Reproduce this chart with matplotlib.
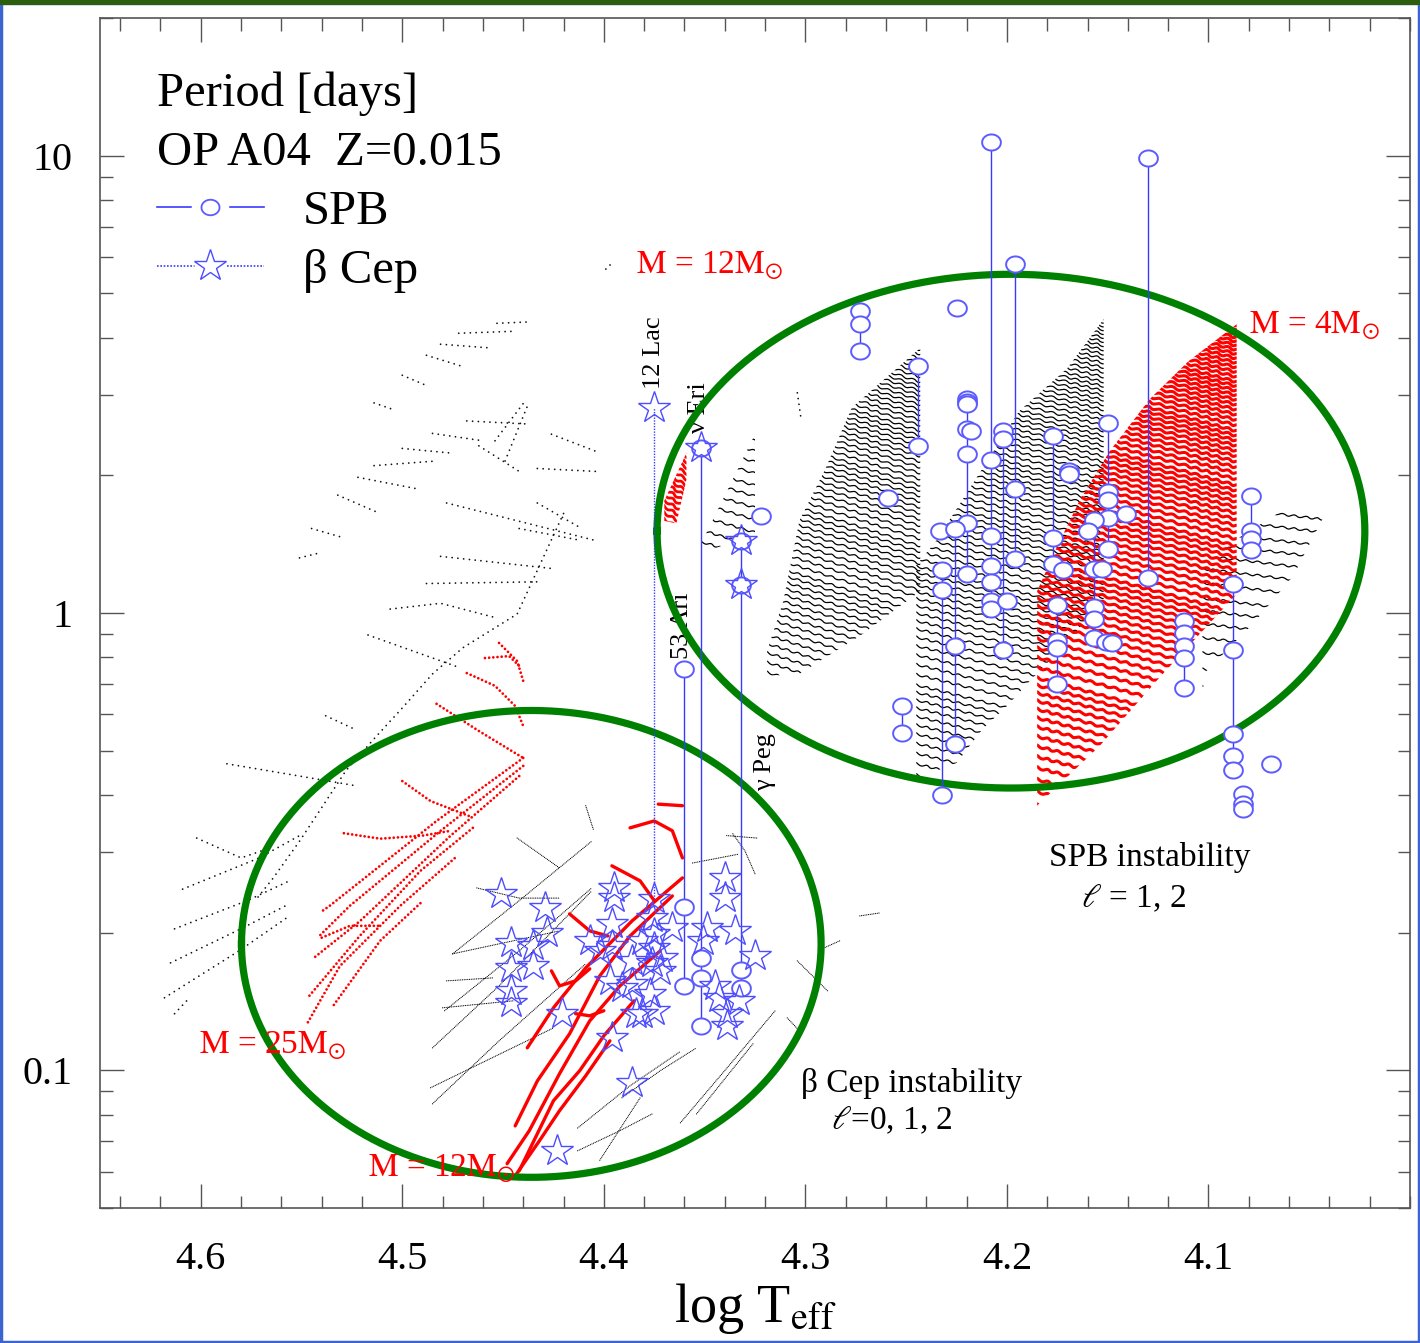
import numpy as np
import matplotlib
matplotlib.use("Agg")
import matplotlib.pyplot as plt
from matplotlib.patches import Polygon, Rectangle
from matplotlib.collections import LineCollection
from matplotlib.lines import Line2D
from matplotlib.legend_handler import HandlerTuple
from matplotlib.path import Path
from matplotlib.ticker import FixedLocator, MultipleLocator, LogLocator, NullFormatter

# ---------------- observed SPB stars (log Teff, periods in days) ----------------
spb_logt = [4.208, 4.130, 4.196, 4.273, 4.225, 4.244, 4.220, 4.218, 4.202, 4.200,
            4.259, 4.233, 4.232, 4.226, 4.252, 4.177, 4.169, 4.172, 4.175, 4.150,
            4.141, 4.157, 4.160, 4.153, 4.151, 4.148, 4.112, 4.088, 4.083, 4.079,
            4.069, 4.322]
spb_periods = [
    [10.7, 2.16, 1.47, 1.27, 1.17, 1.06, 1.02],
    [9.88, 1.19],
    [5.79, 1.87, 1.31],
    [4.57, 4.28, 3.74],
    [4.64],
    [3.47, 2.32],
    [2.94, 2.90, 2.86, 2.52, 2.23, 1.57, 1.22],
    [2.50],
    [2.50, 2.40, 0.830],
    [1.06],
    [1.78],
    [1.51],
    [1.24, 1.12, 0.400],
    [1.53, 0.847, 0.518],
    [0.626, 0.547],
    [2.44, 1.46, 1.28],
    [2.04, 2.01],
    [1.24],
    [1.04, 0.869, 0.839, 0.700],
    [2.60, 1.84, 1.77, 1.61, 1.38],
    [1.65],
    [1.60, 1.25, 1.03, 0.970, 0.882],
    [1.51],
    [1.25],
    [0.864],
    [0.860],
    [0.961, 0.904, 0.847, 0.797, 0.686],
    [1.16, 0.830, 0.544, 0.487, 0.454],
    [0.402, 0.382, 0.373],
    [1.80, 1.51, 1.45, 1.37],
    [0.468],
    [1.63],
]

# ---------------- observed beta Cep stars ----------------
bcep_logt = [4.451, 4.429, 4.446, 4.435, 4.428, 4.446, 4.435, 4.446, 4.446, 4.421,
             4.423, 4.395, 4.395, 4.407, 4.396, 4.396, 4.402, 4.386, 4.397, 4.386,
             4.391, 4.384, 4.396, 4.386, 4.376, 4.375, 4.375, 4.371, 4.381, 4.366,
             4.376, 4.372, 4.377, 4.375, 4.381, 4.340, 4.340, 4.335, 4.349, 4.351,
             4.325, 4.343, 4.339, 4.339, 4.345, 4.333]
bcep_p = [0.243, 0.2265, 0.190, 0.187, 0.1998, 0.1675, 0.1692, 0.1492, 0.1405, 0.133,
          0.0667, 0.2505, 0.238, 0.1919, 0.209, 0.187, 0.1825, 0.1735, 0.1569, 0.1545,
          0.1515, 0.133, 0.1178, 0.0939, 0.2155, 0.1988, 0.185, 0.176, 0.1919, 0.205,
          0.1718, 0.165, 0.147, 0.135, 0.133, 0.2635, 0.238, 0.2018, 0.205, 0.1919,
          0.178, 0.1441, 0.133, 0.125, 0.153, 0.1419]

# named stars with long period ranges
named_names = ['12 Lac', 'ν Eri', '53 Ari', 'γ Peg']
named_logt = [4.375, 4.352, 4.360, 4.332]
named_star_p = [[2.81, 0.237], [2.29], [], [1.44, 1.15]]
named_circ_p = [[], [2.29, 0.176, 0.159, 0.125], [0.754, 0.228, 0.153],
                [1.44, 1.15, 0.166, 0.1515]]
named_ls = [(0, (1, 1)), '-', '-', '-']
named_label_t = [4.375, 4.353, 4.361, 4.320]
named_label_p = [3.09, 2.47, 0.793, 0.408]

# ---------------- model tracks ----------------
red25_tracks = [
    ([4.440, 4.483, 4.536, 4.541], [0.482, 0.351, 0.229, 0.221]),
    ([4.440, 4.481, 4.526, 4.542], [0.463, 0.334, 0.229, 0.195]),
    ([4.442, 4.476, 4.521, 4.544], [0.440, 0.326, 0.212, 0.176]),
    ([4.465, 4.491, 4.521, 4.547], [0.339, 0.273, 0.197, 0.144]),
    ([4.474, 4.501, 4.531, 4.547], [0.291, 0.229, 0.169, 0.127]),
    ([4.491, 4.511, 4.535], [0.232, 0.192, 0.137]),
    ([4.483, 4.462, 4.440], [0.633, 0.552, 0.482]),
    ([4.500, 4.486, 4.467], [0.429, 0.388, 0.360]),
    ([4.529, 4.511, 4.490, 4.476], [0.330, 0.321, 0.326, 0.334]),
    ([4.468, 4.454, 4.444, 4.440], [0.739, 0.693, 0.626, 0.566]),
    ([4.459, 4.447, 4.442], [0.797, 0.805, 0.766]),
    ([4.452, 4.443, 4.440], [0.860, 0.785, 0.710]),
    ([4.540, 4.526, 4.512], [0.195, 0.207, 0.207]),
]

red12_tracks = [
    ([4.361, 4.386, 4.409, 4.425, 4.438], [0.2635, 0.2122, 0.1675, 0.137, 0.112]),
    ([4.366, 4.387, 4.402, 4.417, 4.433, 4.444], [0.2406, 0.1967, 0.1609, 0.1202, 0.0948, 0.0756]),
    ([4.372, 4.392, 4.407, 4.422, 4.437, 4.448], [0.1825, 0.153, 0.1283, 0.0983, 0.0738, 0.0625]),
    ([4.385, 4.400, 4.412, 4.425, 4.442], [0.1419, 0.119, 0.0998, 0.0858, 0.0603]),
    ([4.397, 4.409, 4.422, 4.432, 4.444], [0.116, 0.0973, 0.0816, 0.0701, 0.0588]),
    ([4.387, 4.375, 4.366, 4.361], [0.339, 0.351, 0.334, 0.2914]),
    ([4.373, 4.361], [0.382, 0.379]),
    ([4.396, 4.382, 4.375], [0.280, 0.2596, 0.235]),
    ([4.417, 4.407, 4.398], [0.2198, 0.2018, 0.1967]),
    ([4.426, 4.422, 4.414, 4.407], [0.165, 0.153, 0.1569, 0.1667]),
    ([4.414, 4.407, 4.400], [0.133, 0.1316, 0.135]),
]

hot_tracks = [
    ([4.453, 4.437], [4.30, 4.33]),
    ([4.472, 4.445], [4.09, 4.13]),
    ([4.481, 4.457], [3.87, 3.80]),
    ([4.488, 4.471], [3.66, 3.47]),
    ([4.500, 4.487], [3.31, 3.13]),
    ([4.514, 4.505], [2.88, 2.79]),
    ([4.468, 4.438], [2.63, 2.59]),
    ([4.485, 4.460], [2.47, 2.38]),
    ([4.500, 4.477], [2.29, 2.24]),
    ([4.514, 4.483], [2.10, 2.15]),
    ([4.522, 4.493], [1.98, 1.87]),
    ([4.532, 4.511], [1.81, 1.65]),
    ([4.545, 4.529], [1.53, 1.46]),
    ([4.551, 4.542], [1.32, 1.35]),
    ([4.478, 4.404], [1.74, 1.44]),
    ([4.481, 4.425], [1.33, 1.25]),
    ([4.488, 4.433], [1.16, 1.17]),
    ([4.506, 4.481, 4.453], [1.02, 1.05, 0.975]),
    ([4.517, 4.471], [0.895, 0.758]),
    ([4.538, 4.524], [0.596, 0.558]),
    ([4.420, 4.443, 4.470, 4.485, 4.500, 4.515, 4.528, 4.542, 4.551, 4.564, 4.572],
     [1.65, 0.995, 0.839, 0.736, 0.620, 0.525, 0.452, 0.364, 0.317, 0.2635, 0.238]),
    ([4.454, 4.439], [2.38, 2.91]),
    ([4.449, 4.438], [2.15, 2.83]),
    ([4.462, 4.442], [2.32, 2.04]),
    ([4.426, 4.402], [2.46, 2.24]),
    ([4.433, 4.404], [2.07, 2.04]),
    ([4.433, 4.411], [1.74, 1.53]),
    ([4.442, 4.411], [1.53, 1.44]),
    ([4.399, 4.396], [5.65, 5.82]),
    ([4.304, 4.302], [3.03, 2.63]),
    ([4.587, 4.551, 4.523], [0.468, 0.440, 0.419]),
    ([4.602, 4.580, 4.566], [0.322, 0.2914, 0.306]),
    ([4.609, 4.571, 4.551], [0.249, 0.2914, 0.326]),
    ([4.613, 4.577, 4.556], [0.2039, 0.235, 0.2596]),
    ([4.615, 4.579, 4.558], [0.1718, 0.205, 0.2289]),
    ([4.618, 4.581, 4.556], [0.1441, 0.1825, 0.2176]),
    ([4.613, 4.607], [0.133, 0.1419]),
]

bcep_tracks = [
    ([4.485, 4.452, 4.406], [0.112, 0.153, 0.2468]),
    ([4.485, 4.452, 4.409], [0.0845, 0.116, 0.171]),
    ([4.479, 4.442, 4.406], [0.135, 0.1825, 0.2505]),
    ([4.475, 4.442, 4.406], [0.1798, 0.235, 0.317]),
    ([4.463, 4.442, 4.422], [0.2505, 0.238, 0.238]),
    ([4.409, 4.405], [0.379, 0.334]),
    ([4.413, 4.387, 4.362], [0.0748, 0.0925, 0.110]),
    ([4.413, 4.392, 4.376], [0.0667, 0.0738, 0.0803]),
    ([4.402, 4.382], [0.0636, 0.0871]),
    ([4.391, 4.372, 4.354], [0.0871, 0.0998, 0.112]),
    ([4.362, 4.338, 4.315], [0.0768, 0.1023, 0.135]),
    ([4.354, 4.326], [0.0803, 0.1143]),
    ([4.336, 4.330, 4.325], [0.329, 0.302, 0.269]),
    ([4.339, 4.324], [0.326, 0.322]),
    ([4.356, 4.333], [0.284, 0.297]),
    ([4.304, 4.289], [0.1735, 0.1492]),
    ([4.309, 4.303], [0.1302, 0.122]),
    ([4.291, 4.283], [0.185, 0.1919]),
    ([4.273, 4.263], [0.2176, 0.2209]),
    ([4.443, 4.422], [0.322, 0.277]),
    ([4.475, 4.422], [0.1798, 0.2018]),
    ([4.478, 4.455], [0.1569, 0.1593]),
    ([4.480, 4.445], [0.137, 0.1419]),
    ([4.486, 4.425], [0.0916, 0.1238]),
]

# g-mode period families of the SPB models: outline of each family and the
# periods of its modes at the cool edge of the family
spb_mode_p = [0.29, 0.31, 0.33, 0.35, 0.37, 0.39, 0.41, 0.43, 0.45, 0.47, 0.49, 0.51,
              0.53, 0.55, 0.58, 0.61, 0.64, 0.67, 0.70, 0.73, 0.76, 0.79, 0.82, 0.85,
              0.88, 0.91, 0.94, 0.97, 1.00, 1.04, 1.08, 1.12, 1.16, 1.20, 1.24, 1.28,
              1.32, 1.36, 1.40, 1.45, 1.50, 1.55, 1.60, 1.65, 1.70, 1.75, 1.80, 1.85,
              1.90, 1.96, 2.02, 2.08, 2.14, 2.20, 2.26, 2.32, 2.38, 2.44, 2.50, 2.57,
              2.64, 2.71, 2.78, 2.85, 2.92, 2.99, 3.06, 3.13, 3.20, 3.28, 3.36, 3.44,
              3.52, 3.60, 3.68, 3.76, 3.84, 3.92, 4.00, 4.08, 4.16, 4.24, 4.32, 4.40]
r4_t = [4.086, 4.086, 4.124, 4.154, 4.185, 4.185, 4.176, 4.164, 4.149, 4.129, 4.110]
r4_p = [4.28, 1.10, 0.725, 0.512, 0.379, 1.117, 1.37, 1.76, 2.26, 2.94, 3.55]
w2_t = [4.152, 4.152, 4.179, 4.190, 4.200, 4.212, 4.225, 4.245, 4.245, 4.235, 4.214, 4.194, 4.170]
w2_p = [4.39, 1.06, 0.785, 0.700, 0.626, 0.558, 0.470, 0.434, 1.27, 1.44, 2.01, 2.76, 3.43]
w1_t = [4.243, 4.277, 4.290, 4.303, 4.311, 4.319, 4.319, 4.303, 4.273, 4.243]
w1_p = [3.80, 2.81, 2.07, 1.59, 1.06, 0.826, 0.728, 0.736, 0.891, 1.117]
w0_t = [4.325, 4.352, 4.351, 4.325]
w0_p = [2.46, 1.41, 1.35, 1.50]
w4_t = [4.061, 4.042, 4.058, 4.078, 4.101, 4.103, 4.103, 4.085]
w4_p = [1.70, 1.65, 1.205, 0.946, 0.747, 0.675, 1.25, 1.46]
rs_t = [4.359, 4.359, 4.364, 4.370, 4.370]
rs_p = [2.24, 1.96, 1.57, 1.59, 1.76]

# instability domains (ellipses): centre log Teff, centre P, half widths (dex)
dom_t = [4.436, 4.198]
dom_p = [0.189, 1.51]
dom_a = [0.1438, 0.1756]
dom_b = [0.5104, 0.5617]

mass_text = [r'$\mathrm{M}$ = 12$\mathrm{M}_{\odot}$', r'$\mathrm{M}$ = 4$\mathrm{M}_{\odot}$',
             r'$\mathrm{M}$ = 25$\mathrm{M}_{\odot}$', r'$\mathrm{M}$ = 12$\mathrm{M}_{\odot}$']
mass_t = [4.384, 4.080, 4.601, 4.517]
mass_p = [5.74, 4.24, 0.113, 0.0609]

plt.rcParams['font.family'] = ['Liberation Serif', 'DejaVu Serif']
plt.rcParams['mathtext.fontset'] = 'stix'

SPB_EDGE = '#5b5bff'
STAR_EDGE = '#4d4dff'
LINE_BLUE = '#3a3aff'

fig = plt.figure(figsize=(14.2, 13.43), dpi=100)
ax = fig.add_axes([100 / 1420, 135 / 1343, 1310 / 1420, 1190 / 1343])
ax.set_yscale('log')
ax.set_xlim(4.65, 4.0)
ax.set_ylim(0.05, 20)

th = np.linspace(0, 2 * np.pi, 60)
oval = Path(np.column_stack([np.cos(th), 0.86 * np.sin(th)]))


def mode_family(vt, vp, periods, slope, color, lw):
    poly = Polygon(np.column_stack([vt, vp]), closed=True, transform=ax.transData,
                   fill=False, lw=0)
    t_r, t_l = min(vt), max(vt) + 0.005
    segs = [[(t_l, p * 10 ** (slope * (t_l - t_r))), (t_r - 0.002, p * 10 ** (-0.002 * slope))]
            for p in periods]
    lc = LineCollection(segs, colors=color, linewidths=lw, zorder=3)
    lc.set_sketch_params(1.0, 12, 1.5)
    ax.add_collection(lc, autolim=False)
    lc.set_clip_path(poly)


# model tracks
for t, p in hot_tracks:
    ax.plot(t, p, color='#111111', lw=1.3, ls=(0, (0.01, 3.2)), dash_capstyle='round', zorder=2)
for t, p in bcep_tracks:
    ax.plot(t, p, color='black', lw=0.9, ls=(0, (0.01, 1.4)), dash_capstyle='round', zorder=2)
for t, p in red25_tracks:
    ax.plot(t, p, color='red', lw=2.0, ls=(0, (0.01, 1.5)), dash_capstyle='round', zorder=3)
for t, p in red12_tracks:
    ax.plot(t, p, color='red', lw=2.4, solid_capstyle='round', zorder=3)

mode_family(w1_t, w1_p, spb_mode_p, 1.41, 'black', 0.9)
mode_family(w2_t, w2_p, spb_mode_p, 1.1, 'black', 0.9)
mode_family(w0_t, w0_p, spb_mode_p[::2], 1.32, 'black', 0.9)
mode_family(w4_t, w4_p, spb_mode_p[::2], 0.53, 'black', 0.9)
mode_family(r4_t, r4_p, spb_mode_p, 1.19, 'red', 2.2)
mode_family(rs_t, rs_p, spb_mode_p, 2.6, 'red', 2.0)

# instability domains
for tc, pc, a, b in zip(dom_t, dom_p, dom_a, dom_b):
    ang = np.linspace(0, 2 * np.pi, 400)
    ax.plot(tc + a * np.cos(ang), pc * 10 ** (b * np.sin(ang)), color='#008000', lw=5.2, zorder=6)

# observed SPB stars
for t, ps in zip(spb_logt, spb_periods):
    if len(ps) > 1:
        ax.plot([t, t], [min(ps), max(ps)], color=LINE_BLUE, lw=1.0, zorder=7)
    ax.plot([t] * len(ps), ps, ls='none', marker=oval, ms=13.5, mfc='white',
            mec=SPB_EDGE, mew=1.4, zorder=8)

# named stars
for name, t, sp, cp, ls, lt, lp in zip(named_names, named_logt, named_star_p, named_circ_p,
                                       named_ls, named_label_t, named_label_p):
    allp = sp + cp
    ax.plot([t, t], [min(allp), max(allp)], color=LINE_BLUE, lw=1.0, ls=ls, zorder=7)
    if cp:
        ax.plot([t] * len(cp), cp, ls='none', marker=oval, ms=13.5, mfc='white',
                mec=SPB_EDGE, mew=1.4, zorder=8)
    if sp:
        ax.plot([t] * len(sp), sp, ls='none', marker='*', ms=24, mfc='none',
                mec=STAR_EDGE, mew=1.0, zorder=9)
    ax.text(lt, lp, name, rotation=90, ha='center', va='bottom', fontsize=19, zorder=5)

# observed beta Cep stars
ax.plot(bcep_logt, bcep_p, ls='none', marker='*', ms=24, mfc='none', mec=STAR_EDGE,
        mew=1.0, zorder=9)

# labels
for s, t, p in zip(mass_text, mass_t, mass_p):
    ax.text(t, p, s, color='red', fontsize=24, ha='left', va='center', zorder=10)
ax.text(4.179, 0.2914, 'SPB instability', fontsize=24, ha='left', va='center')
ax.text(4.137, 0.238, r'$\ell$ = 1, 2', fontsize=24, ha='center', va='center')
ax.text(4.302, 0.0935, 'β Cep instability', fontsize=24, ha='left', va='center')
ax.text(4.257, 0.0776, r'$\ell$=0, 1, 2', fontsize=24, ha='center', va='center')

# legend
h_spb = (Line2D([], [], color=LINE_BLUE, lw=1.2),
         Line2D([], [], ls='none', marker='o', ms=26, mfc='white', mec='white'),
         Line2D([], [], ls='none', marker=oval, ms=13, mfc='white', mec=SPB_EDGE, mew=1.3))
h_bcep = (Line2D([], [], color=LINE_BLUE, lw=1.2, ls=(0, (1, 1))),
          Line2D([], [], ls='none', marker='o', ms=22, mfc='white', mec='white'),
          Line2D([], [], ls='none', marker='*', ms=24, mfc='white', mec=STAR_EDGE, mew=1.0))
leg = ax.legend([h_spb, h_bcep], ['SPB', 'β Cep'],
                handler_map={tuple: HandlerTuple(ndivide=1)},
                title='Period [days]\nOP A04  Z=0.015', title_fontsize=35, fontsize=35,
                loc='upper left', bbox_to_anchor=(0.0435, 0.955), borderaxespad=0,
                borderpad=0, frameon=False, handlelength=2.2, handletextpad=0.8,
                labelspacing=0.3, alignment='left')
leg.get_title().set_linespacing(1.45)
leg.set_zorder(11)

# axes styling
ax.xaxis.set_major_locator(FixedLocator([4.6, 4.5, 4.4, 4.3, 4.2, 4.1]))
ax.xaxis.set_minor_locator(MultipleLocator(0.02))
ax.set_xticklabels(['4.6', '4.5', '4.4', '4.3', '4.2', '4.1'])
ax.yaxis.set_major_locator(FixedLocator([0.1, 1, 10]))
ax.set_yticklabels(['0.1', '1', '10'])
ax.yaxis.set_minor_locator(LogLocator(base=10, subs=np.arange(2, 10)))
ax.yaxis.set_minor_formatter(NullFormatter())
ax.tick_params(which='both', direction='in', top=True, right=True, color='#555555', width=1.0)
ax.tick_params(which='major', length=17, labelsize=29)
ax.tick_params(axis='x', which='major', pad=24)
ax.tick_params(axis='y', which='major', pad=20)
ax.tick_params(which='minor', length=9)
for sp in ax.spines.values():
    sp.set_color('#555555')
    sp.set_linewidth(1.2)
ax.set_xlabel(r'log T$_{\rm eff}$', fontsize=39, labelpad=2)

# frame of the slide
fig.patches.append(Rectangle((0.001, 0.001), 0.998, 0.997, transform=fig.transFigure,
                             fill=False, ec='#3c64d0', lw=2.5))
fig.patches.append(Rectangle((0, 1 - 5 / 1343), 1, 5 / 1343, transform=fig.transFigure,
                             fc='#2d5e0c', ec='none'))

fig.savefig('out.png', dpi=100)
